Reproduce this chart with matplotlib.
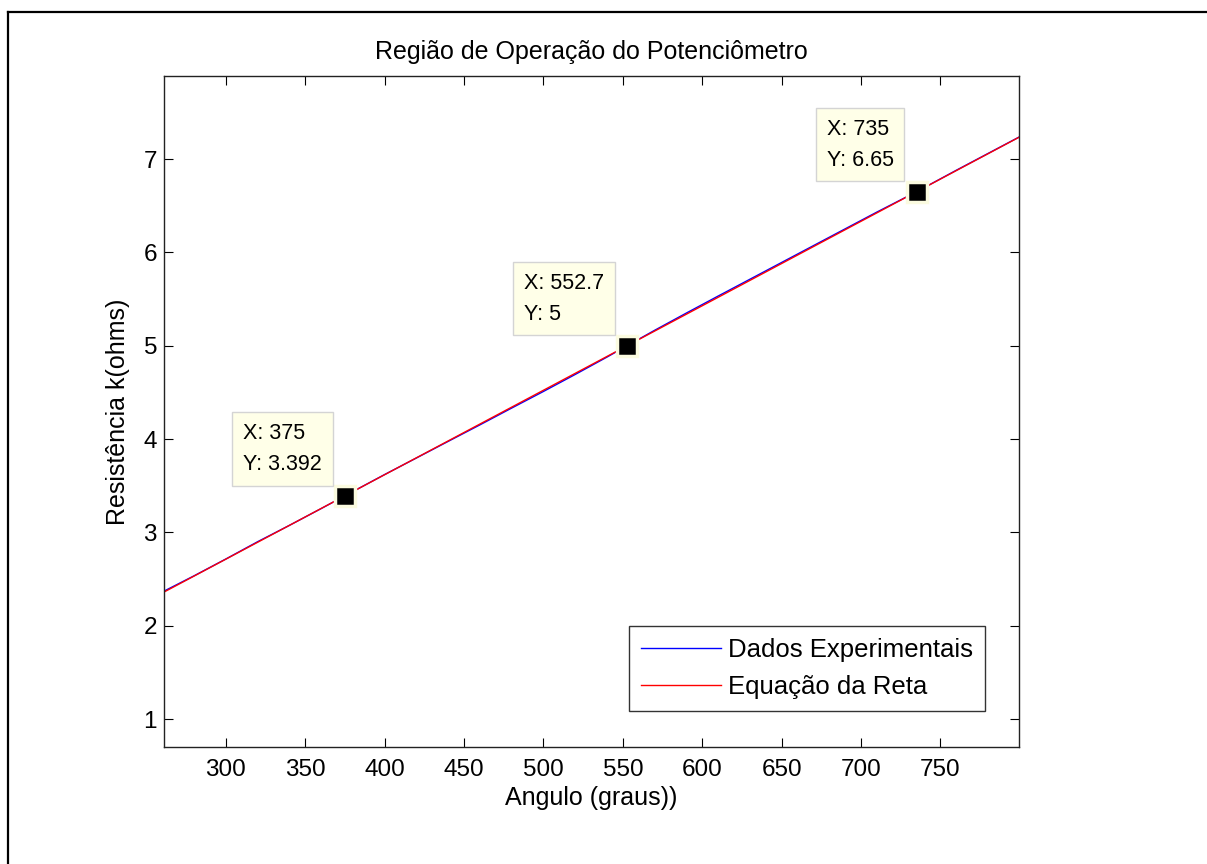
import matplotlib
matplotlib.use("Agg")
import matplotlib.pyplot as plt
from matplotlib.lines import Line2D

plt.rcParams['font.family'] = ['Liberation Sans', 'DejaVu Sans']

# ---- data ----
angle_exp = [261, 280, 300, 320, 340, 360, 375, 400, 420, 440, 460, 480, 500,
             520, 540, 552.7, 570, 590, 610, 630, 650, 670, 690, 710, 735, 760,
             780, 800]
res_exp = [2.37, 2.535, 2.715, 2.90, 3.075, 3.255, 3.392, 3.62, 3.797, 3.975,
           4.152, 4.332, 4.51, 4.692, 4.878, 5.0, 5.165, 5.35, 5.532, 5.712,
           5.892, 6.072, 6.252, 6.432, 6.65, 6.88, 7.06, 7.24]
angle_fit = [261, 800]
res_fit = [2.360, 7.238]
tip_x = [375, 552.7, 735]
tip_y = [3.392, 5, 6.65]
tip_labels = ["X: 375\nY: 3.392", "X: 552.7\nY: 5", "X: 735\nY: 6.65"]
xticks = [300, 350, 400, 450, 500, 550, 600, 650, 700, 750]
yticks = [1, 2, 3, 4, 5, 6, 7]

W, H = 1207, 864
fig = plt.figure(figsize=(W / 100, H / 100), dpi=100)
ax = fig.add_axes([164 / W, (H - 747) / H, (1019 - 164) / W, (747 - 76) / H])

ax.plot(angle_exp, res_exp, color='blue', lw=1.0, label='Dados Experimentais')
ax.plot(angle_fit, res_fit, color='red', lw=1.0, label='Equação da Reta')

ax.set_xlim(261, 799.5)
ax.set_ylim(0.7, 7.89)
ax.set_xticks(xticks)
ax.set_yticks(yticks)
ax.tick_params(direction='in', length=6.5, width=0.8, labelsize=17.5,
               top=True, right=True)
ax.tick_params(axis='x', pad=9)
ax.tick_params(axis='y', pad=5)
for s in ax.spines.values():
    s.set_linewidth(1.0)
    s.set_color('#222222')

ax.set_title('Região de Operação do Potenciômetro', fontsize=18, pad=12)
ax.set_xlabel('Angulo (graus))', fontsize=18, labelpad=3)
ax.set_ylabel('Resistência k(ohms)', fontsize=18, labelpad=10)

# data tips
ax.plot(tip_x, tip_y, linestyle='none', marker='s', markersize=14,
        markerfacecolor='black', markeredgecolor='#fbfbe0',
        markeredgewidth=2.5, zorder=5)
for x, y, t in zip(tip_x, tip_y, tip_labels):
    ax.annotate(t, xy=(x, y), xytext=(-23, 21), textcoords='offset pixels',
                ha='right', va='bottom', multialignment='left', fontsize=15.5,
                linespacing=1.6,
                bbox=dict(boxstyle='square,pad=0.5', facecolor='#ffffe8',
                          edgecolor='#d4d4d4', linewidth=1.0), zorder=6)

leg = ax.legend(loc='lower right', bbox_to_anchor=(0.960, 0.0537),
                fontsize=18.5, frameon=True, fancybox=False, borderaxespad=0,
                handlelength=3.1, handletextpad=0.3, labelspacing=0.53,
                borderpad=0.45)
leg.get_frame().set_edgecolor('black')
leg.get_frame().set_linewidth(1.0)

# outer frame (top and left)
fig.add_artist(Line2D([8 / W, 1.0], [1 - 12 / H, 1 - 12 / H],
                      transform=fig.transFigure, color='black', lw=1.6))
fig.add_artist(Line2D([8 / W, 8 / W], [0, 1 - 12 / H],
                      transform=fig.transFigure, color='black', lw=1.6))

fig.savefig('out.png', dpi=100, facecolor='white')
